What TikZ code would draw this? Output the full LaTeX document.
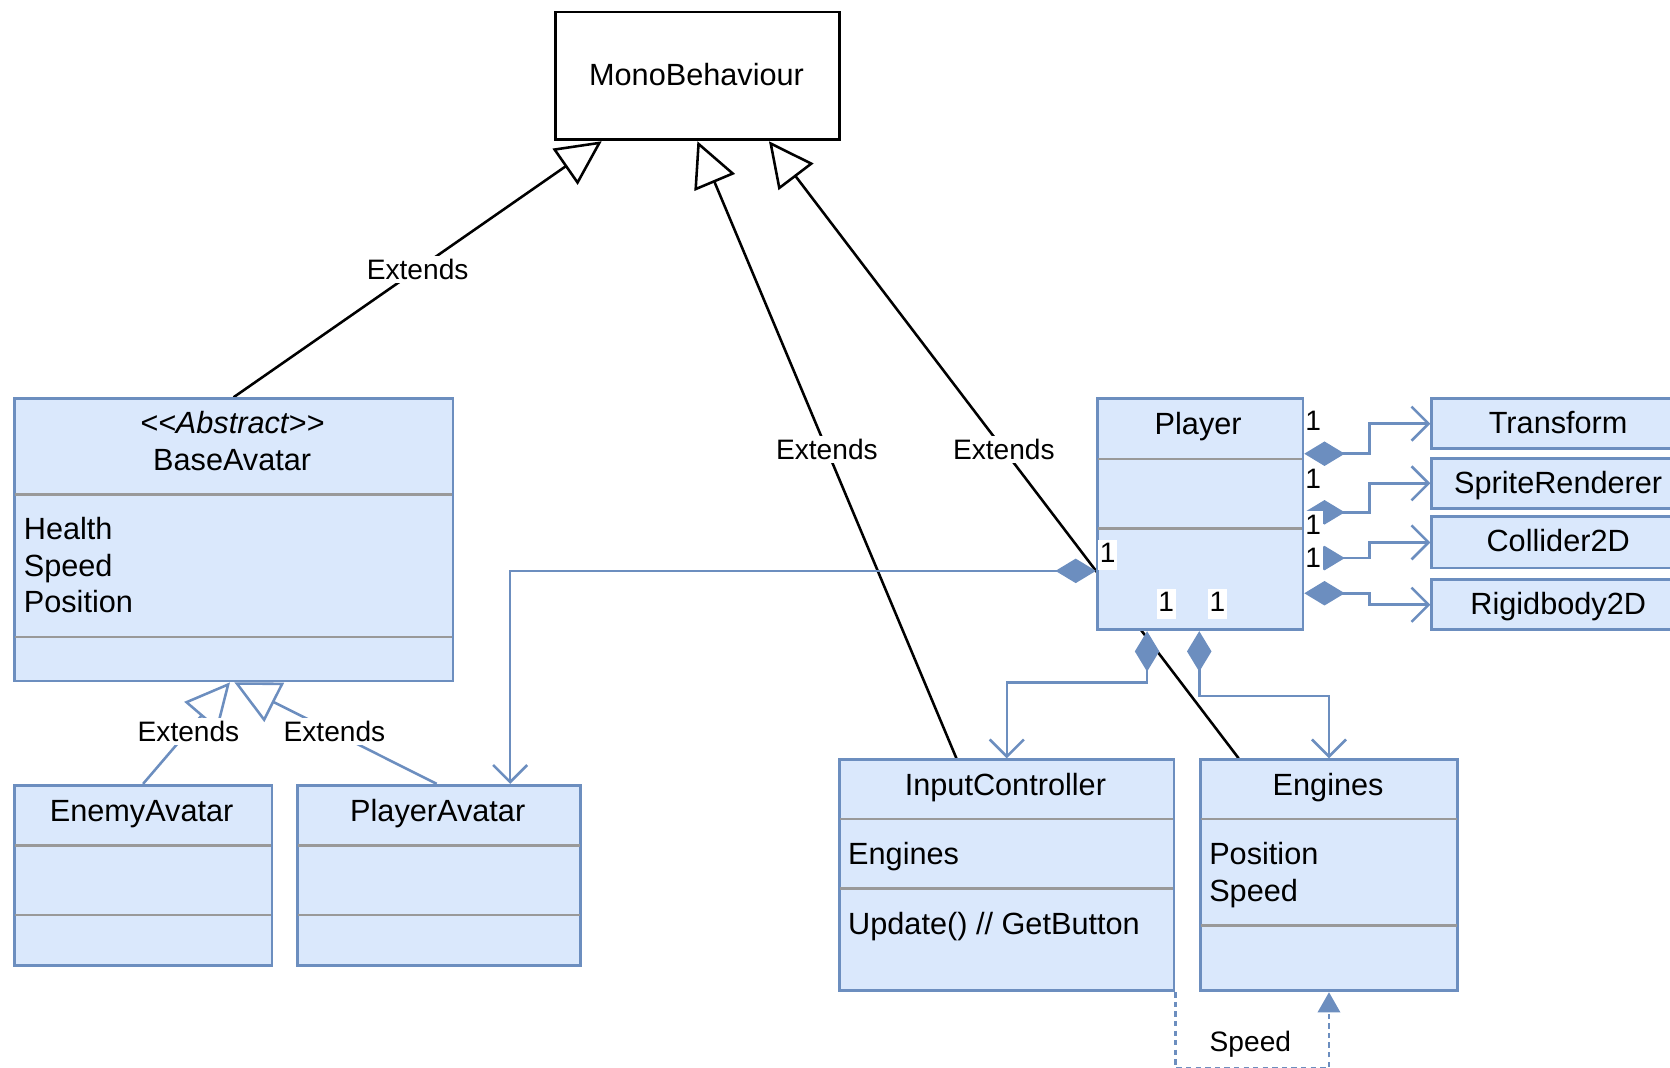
\documentclass[tikz,border=0pt]{standalone}
\usepackage{fontspec}
\setmainfont{Liberation Sans}
\usetikzlibrary{arrows.meta,calc}
\definecolor{bfill}{HTML}{DAE8FC}
\definecolor{bstroke}{HTML}{6C8EBF}
\definecolor{divgray}{HTML}{999999}
\pgfdeclarelayer{bg}
\pgfsetlayers{bg,main}
\tikzset{
  clsbox/.style={draw=bstroke, fill=bfill, line width=1.3pt, rectangle, inner sep=0pt, anchor=north west},
  monobox/.style={draw=black, fill=white, line width=1.3pt, rectangle, inner sep=0pt, anchor=north west},
  ctext/.style={font=\fontsize{14.4}{17}\selectfont, inner sep=0pt, anchor=base},
  ltext/.style={ctext, anchor=base west},
  elabel/.style={font=\fontsize{13.2}{15}\selectfont, fill=white, inner sep=1.5pt},
  onelabel/.style={font=\fontsize{13.2}{15}\selectfont, fill=white, inner sep=0.8pt, text height=10pt, text depth=2.5pt},
  extline/.style={draw=black, line width=1.2pt, -{Triangle[open, length=21pt, width=20.5pt]}},
  bextline/.style={draw=bstroke, line width=1.2pt, -{Triangle[open, length=21pt, width=20.5pt]}},
  compline/.style={draw=bstroke, line width=1.2pt, {Diamond[length=19pt, width=11.5pt]}-{Straight Barb[length=8pt, width=16pt]}},
  divline/.style={draw=divgray, line width=1.3pt},
  depline/.style={draw=bstroke, line width=1.2pt, dash pattern=on 2.5pt off 2pt, -{Triangle[length=9.5pt, width=10.5pt]}},
}
\begin{document}
\begin{tikzpicture}[x=0.5pt,y=-0.5pt]
\useasboundingbox (0,0) rectangle (1568,1002);
\clip (0,0) rectangle (1568,1002);

% boxes
\node[monobox, minimum width=133.5pt, minimum height=60pt] (mono) at (520,10) {};
\node[clsbox, minimum width=206pt, minimum height=132.5pt] (base) at (12,373) {};
\node[clsbox, minimum width=121pt, minimum height=84.5pt] (enemy) at (12,736) {};
\node[clsbox, minimum width=133pt, minimum height=84.5pt] (pava) at (278,736) {};
\node[clsbox, minimum width=96.5pt, minimum height=108.5pt] (player) at (1029,373) {};
\node[clsbox, minimum width=120pt, minimum height=23.5pt] (tr) at (1343,373) {};
\node[clsbox, minimum width=120pt, minimum height=23.5pt] (sr) at (1343,429) {};
\node[clsbox, minimum width=120pt, minimum height=24pt] (col) at (1343,484) {};
\node[clsbox, minimum width=120pt, minimum height=23.5pt] (rb) at (1343,543) {};
\node[clsbox, minimum width=157pt, minimum height=108.5pt] (ic) at (787,712) {};
\node[clsbox, minimum width=120.5pt, minimum height=108.5pt] (eng) at (1126,712) {};

% dividers
\draw[divline] ($(base.north west)+(2,91)$) -- ($(base.north east)+(-2,91)$);
\draw[divline] ($(base.north west)+(2,225)$) -- ($(base.north east)+(-2,225)$);
\draw[divline] ($(enemy.north west)+(2,58)$) -- ($(enemy.north east)+(-2,58)$);
\draw[divline] ($(enemy.north west)+(2,123)$) -- ($(enemy.north east)+(-2,123)$);
\draw[divline] ($(pava.north west)+(2,58)$) -- ($(pava.north east)+(-2,58)$);
\draw[divline] ($(pava.north west)+(2,123)$) -- ($(pava.north east)+(-2,123)$);
\draw[divline] ($(player.north west)+(2,58)$) -- ($(player.north east)+(-2,58)$);
\draw[divline] ($(player.north west)+(2,123)$) -- ($(player.north east)+(-2,123)$);
\draw[divline] ($(ic.north west)+(2,57)$) -- ($(ic.north east)+(-2,57)$);
\draw[divline] ($(ic.north west)+(2,122)$) -- ($(ic.north east)+(-2,122)$);
\draw[divline] ($(eng.north west)+(2,57)$) -- ($(eng.north east)+(-2,57)$);
\draw[divline] ($(eng.north west)+(2,157)$) -- ($(eng.north east)+(-2,157)$);

% texts
\node[ctext] (tmono) at (654,80) {MonoBehaviour};
\node[ctext] (tabs) at (218,407) {\itshape\mbox{<}\mbox{<}Abstract\mbox{>}\mbox{>}};
\node[ctext] (tbase) at (218,442) {BaseAvatar};
\node[ltext] (th) at (22,507) {Health};
\node[ltext] (ts) at (22,541) {Speed};
\node[ltext] (tp) at (22,575) {Position};
\node[ctext] (tenemy) at (133,771) {EnemyAvatar};
\node[ctext] (tpava) at (411,771) {PlayerAvatar};
\node[ctext] (tplayer) at (1125,408) {Player};
\node[ctext] (ttr) at (1463,407) {Transform};
\node[ctext] (tsr) at (1463,463) {SpriteRenderer};
\node[ctext] (tcol) at (1463,518) {Collider2D};
\node[ctext] (trb) at (1463,577) {Rigidbody2D};
\node[ctext] (tic) at (944,747) {InputController};
\node[ltext] (tice) at (796,812) {Engines};
\node[ltext] (ticu) at (796,877) {Update() // GetButton};
\node[ctext] (teng) at (1247,747) {Engines};
\node[ltext] (tengp) at (1135,812) {Position};
\node[ltext] (tengs) at (1135,846) {Speed};

% connectors
\coordinate (m1) at ($(mono.south west)+(45,0)$);
\coordinate (m3) at ($(mono.south west)+(202,0)$);
\coordinate (ics) at ($(ic.north west)+(111,0)$);
\coordinate (engs) at ($(eng.north west)+(37,0)$);
\coordinate (b1) at ($(base.south west)+(204,0)$);
\coordinate (b2) at ($(base.south west)+(208,0)$);
\coordinate (pvs) at ($(pava.north west)+(132,0)$);
\coordinate (pvt) at ($(pava.north west)+(201,0)$);
\begin{pgfonlayer}{bg}
\draw[extline] (base.north) -- (m1);
\draw[extline] (ics) -- (mono.south);
\draw[extline] (engs) -- (m3);
\draw[bextline] (enemy.north) -- (b1);
\draw[bextline] (pvs) -- (b2);
\draw[compline] ($(player.north west)+(0,163)$) -| (pvt);
\draw[compline] ($(player.south west)+(48,0)$) -- ++(0,48) -| (ic.north);
\draw[compline] ($(player.south west)+(97,0)$) -- ++(0,61) -| (eng.north);
\draw[compline] ($(player.north east)+(0,53)$) -- ++(61,0) |- (tr.west);
\draw[compline] ($(player.north east)+(0,108)$) -- ++(61,0) |- (sr.west);
\draw[compline] ($(player.north east)+(0,151)$) -- ++(61,0) |- (col.west);
\draw[compline] ($(player.north east)+(0,184)$) -- ++(61,0) |- (rb.west);
\draw[depline] (ic.south east) -- ++(0,71) -| (eng.south);
\end{pgfonlayer}

% labels
\node[elabel] (e1) at ($(base.north)!0.5!(m1)$) {Extends};
\node[elabel] (e2) at ($(ics)!0.5!(mono.south)$) {Extends};
\node[elabel] (e3) at ($(engs)!0.5!(m3)$) {Extends};
\node[elabel] (e4) at (177,687) {Extends};
\node[elabel] (e5) at (314,687) {Extends};
\node[font=\fontsize{13.2}{15}\selectfont, inner sep=0pt] (lspeed) at (1174,980) {Speed};
\node[onelabel] (o1) at (1233,397) {1};
\node[onelabel] (o2) at (1233,451) {1};
\node[onelabel] (o3) at (1233,494) {1};
\node[onelabel] (o4) at (1233,525) {1};
\node[onelabel] (o5) at (1040,521) {1};
\node[onelabel] (o6) at (1095,567) {1};
\node[onelabel] (o7) at (1143,567) {1};
\end{tikzpicture}
\end{document}
